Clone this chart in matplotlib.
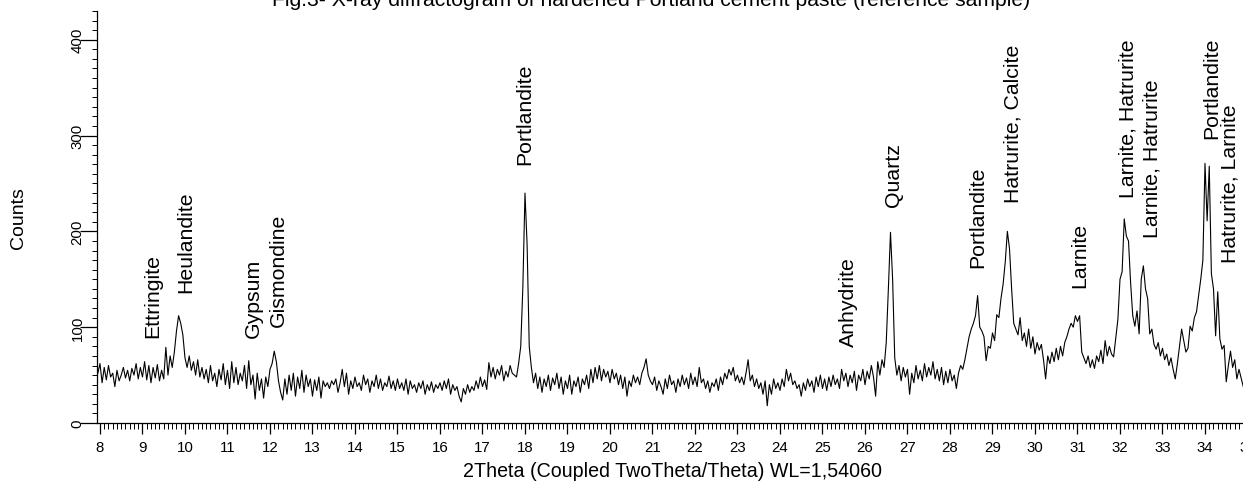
import numpy as np
import matplotlib
matplotlib.use("Agg")
import matplotlib.pyplot as plt
from matplotlib.ticker import MultipleLocator

# ---- data: counts per degree block, 0.05 deg step ----
c07 = [52]  # 7.95
c08 = [62, 42, 58, 45, 60, 48, 52, 38, 55, 44, 50, 58, 47, 55, 44, 57, 50, 62, 46, 58]
c09 = [48, 64, 45, 60, 42, 58, 47, 61, 44, 55, 46, 79, 50, 70, 58, 74, 96, 112, 104, 92]
c10 = [68, 58, 70, 55, 64, 50, 66, 48, 58, 46, 56, 42, 60, 44, 52, 38, 56, 45, 62, 40]
c11 = [55, 36, 64, 42, 58, 40, 52, 44, 60, 36, 65, 40, 50, 25, 52, 34, 46, 26, 48, 38]
c12 = [56, 62, 75, 64, 44, 32, 24, 46, 30, 50, 34, 52, 28, 48, 36, 55, 32, 50, 38, 46]
c13 = [28, 45, 34, 48, 26, 44, 38, 42, 36, 44, 40, 46, 32, 42, 56, 38, 52, 30, 44, 36]
c14 = [48, 38, 42, 34, 50, 40, 46, 32, 44, 38, 50, 36, 46, 34, 42, 38, 49, 36, 44, 34]
c15 = [46, 36, 42, 34, 46, 30, 44, 36, 40, 32, 42, 36, 44, 30, 40, 34, 43, 32, 40, 36]
c16 = [42, 34, 44, 36, 46, 30, 40, 34, 38, 28, 22, 36, 30, 40, 32, 38, 34, 44, 36, 48]
c17 = [38, 45, 35, 63, 48, 58, 46, 56, 50, 60, 44, 54, 48, 60, 52, 50, 48, 62, 80, 142]
c18 = [240, 186, 80, 58, 42, 52, 36, 48, 32, 46, 38, 50, 34, 47, 40, 52, 36, 48, 30, 44]
c19 = [36, 50, 30, 44, 38, 48, 32, 46, 40, 50, 36, 56, 42, 58, 46, 60, 44, 56, 48, 54]
c20 = [42, 56, 46, 52, 40, 50, 36, 48, 28, 44, 38, 50, 42, 48, 40, 52, 58, 67, 50, 44]
c21 = [40, 48, 34, 44, 38, 30, 46, 36, 50, 40, 44, 32, 46, 38, 50, 40, 47, 36, 52, 40]
c22 = [48, 38, 58, 42, 46, 36, 44, 32, 42, 38, 46, 34, 48, 40, 52, 46, 56, 50, 58, 44]
c23 = [50, 42, 48, 40, 52, 66, 44, 50, 38, 46, 36, 42, 30, 44, 18, 40, 30, 46, 36, 42]
c24 = [34, 46, 38, 56, 44, 52, 40, 44, 36, 40, 28, 42, 34, 46, 38, 44, 32, 48, 38, 50]
c25 = [36, 46, 34, 48, 38, 50, 40, 46, 36, 56, 44, 52, 38, 50, 42, 54, 34, 50, 44, 56]
c26 = [40, 54, 46, 60, 48, 28, 64, 50, 66, 58, 84, 140, 199, 150, 68, 50, 60, 44, 58, 48]
c27 = [56, 30, 52, 42, 60, 46, 55, 44, 62, 48, 58, 50, 64, 46, 56, 44, 58, 40, 54, 42]
c28 = [56, 44, 50, 36, 52, 60, 56, 66, 78, 90, 98, 104, 112, 133, 100, 96, 90, 65, 80, 78]
c29 = [94, 86, 113, 110, 130, 145, 168, 200, 182, 140, 104, 98, 92, 110, 86, 94, 80, 98, 78, 90]
c30 = [72, 84, 76, 82, 66, 46, 70, 62, 74, 64, 78, 66, 80, 70, 84, 90, 98, 104, 100, 112]
c31 = [106, 112, 74, 68, 62, 70, 58, 66, 57, 70, 64, 76, 62, 86, 70, 80, 72, 69, 88, 108]
c32 = [150, 158, 213, 195, 190, 146, 112, 101, 117, 93, 150, 164, 140, 130, 93, 98, 82, 77, 84, 70]
c33 = [78, 66, 72, 60, 68, 56, 46, 62, 80, 98, 86, 74, 78, 101, 96, 110, 116, 133, 150, 170]
c34 = [271, 211, 268, 156, 140, 91, 137, 88, 77, 81, 43, 60, 75, 58, 66, 46, 56, 47, 38]

blocks = [(7.95, c07), (8, c08), (9, c09), (10, c10), (11, c11), (12, c12), (13, c13),
          (14, c14), (15, c15), (16, c16), (17, c17), (18, c18), (19, c19), (20, c20),
          (21, c21), (22, c22), (23, c23), (24, c24), (25, c25), (26, c26), (27, c27),
          (28, c28), (29, c29), (30, c30), (31, c31), (32, c32), (33, c33), (34, c34)]

# ---- phase annotations ----
phase_labels = ["Ettringite", "Heulandite", "Gypsum", "Gismondine", "Portlandite",
                "Anhydrite", "Quartz", "Portlandite", "Hatrurite, Calcite", "Larnite",
                "Larnite, Hatrurite", "Larnite, Hatrurite", "Portlandite", "Hatrurite, Larnite"]
phase_pos = [9.25, 10.02, 11.6, 12.19, 18.0, 25.6, 26.66, 28.66, 29.48, 31.06,
             32.19, 32.75, 34.16, 34.59]
phase_y = [90, 137, 90, 101, 270, 80, 227, 163, 231, 142, 236, 194, 297, 168]

xticks = list(range(8, 36))

# ---- build arrays ----
x_parts, y_parts = [], []
for start, vals in blocks:
    x_parts.append(start + 0.05 * np.arange(len(vals)))
    y_parts.append(np.array(vals, dtype=float))
two_theta = np.concatenate(x_parts)
counts = np.concatenate(y_parts)

plt.rcParams['font.family'] = ['Liberation Sans', 'DejaVu Sans']

W, H = 1243, 485
fig = plt.figure(figsize=(W / 100, H / 100), dpi=100)
ax_left, ax_right, ax_top, ax_bot = 97, 1247.5, 12, 424
ax = fig.add_axes([ax_left / W, 1 - ax_bot / H, (ax_right - ax_left) / W, (ax_bot - ax_top) / H])

ax.plot(two_theta, counts, color='black', lw=0.8)
ax.set_xlim(7.93, 35.0)
ax.set_ylim(0, 430)

for s in ['top', 'right']:
    ax.spines[s].set_visible(False)
for s in ['left', 'bottom']:
    ax.spines[s].set_linewidth(0.9)

ax.set_xticks(xticks)
ax.xaxis.set_minor_locator(MultipleLocator(0.1))
ax.yaxis.set_major_locator(MultipleLocator(100))
ax.yaxis.set_minor_locator(MultipleLocator(10))
ax.tick_params(axis='x', which='major', length=8, width=0.9, labelsize=10.8, pad=4)
ax.tick_params(axis='x', which='minor', length=4, width=0.7)
ax.tick_params(axis='y', which='major', length=12, width=0.9, labelsize=10.8, pad=-3,
               labelrotation=90)
ax.tick_params(axis='y', which='minor', length=3.5, width=0.7)
for lab in ax.get_yticklabels():
    lab.set_va('center')

for lbl, px, py in zip(phase_labels, phase_pos, phase_y):
    ax.text(px, py, lbl, rotation=90, ha='center', va='bottom', fontsize=15.3,
            clip_on=False)

fig.text(18 / W, 1 - 218 / H, "Counts", rotation=90, ha='center', va='center', fontsize=14)
fig.text(673 / W, 1 - 472 / H, "2Theta (Coupled TwoTheta/Theta) WL=1,54060",
         ha='center', va='center', fontsize=14.1)
fig.text(651 / W, 1 - 6.5 / H,
         "Fig.3- X-ray diffractogram of hardened Portland cement paste (reference sample)",
         ha='center', va='baseline', fontsize=15.2)

fig.savefig("out.png", dpi=100)
